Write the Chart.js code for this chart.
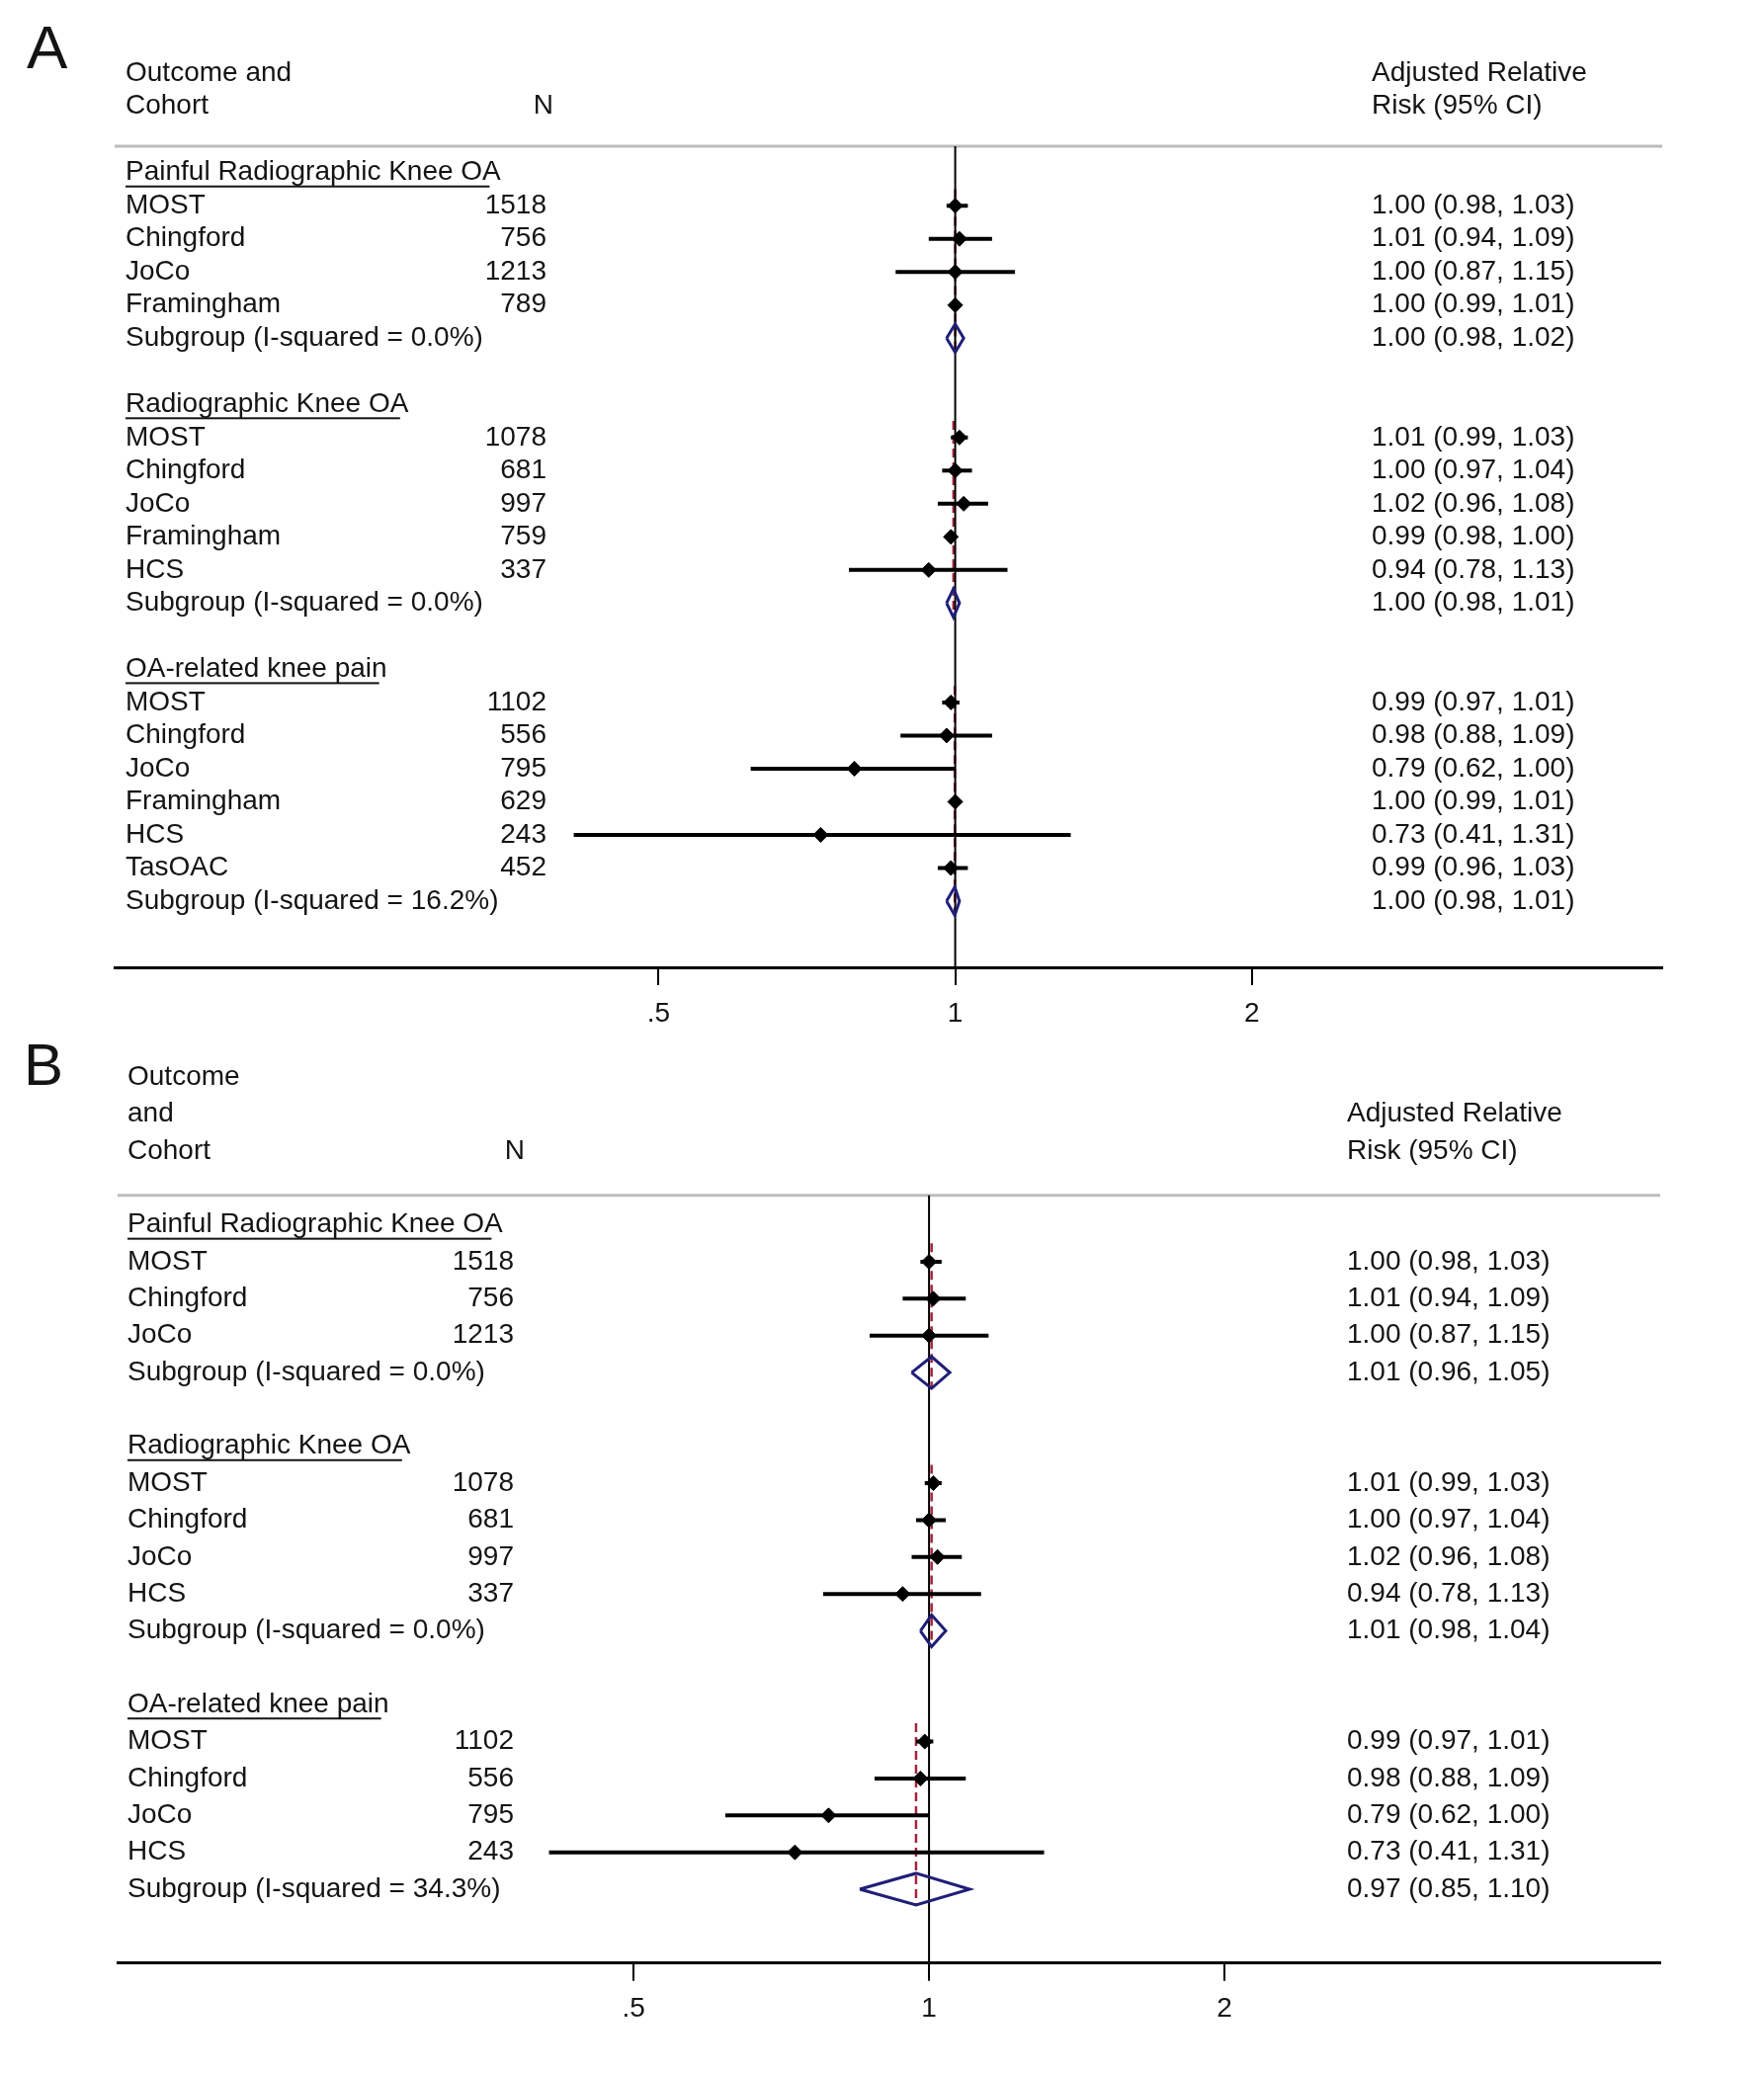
<!DOCTYPE html>
<html>
<head>
<meta charset="utf-8">
<script src="https://cdn.jsdelivr.net/npm/chart.js@4.4.1/dist/chart.umd.min.js"></script>
<style>
  body { margin: 0; background: #fff; width: 1785px; height: 2098px; position: relative; overflow: hidden; }
  canvas { position: absolute; left: 0; }
  #chartA { top: 0; }
  #chartB { top: 1050px; }
</style>
</head>
<body>
<canvas id="chartA" width="1785" height="1060"></canvas>
<canvas id="chartB" width="1785" height="1048"></canvas>
<script>
// data panel A ---------------------------------------------------------
const groupsA = ['Painful Radiographic Knee OA', 'Radiographic Knee OA', 'OA-related knee pain'];
const cohortsA = [
    ['MOST', 'Chingford', 'JoCo', 'Framingham'],
    ['MOST', 'Chingford', 'JoCo', 'Framingham', 'HCS'],
    ['MOST', 'Chingford', 'JoCo', 'Framingham', 'HCS', 'TasOAC']
];
const nA = [[1518, 756, 1213, 789], [1078, 681, 997, 759, 337], [1102, 556, 795, 629, 243, 452]];
const rrA = [[1.00, 1.01, 1.00, 1.00], [1.01, 1.00, 1.02, 0.99, 0.94], [0.99, 0.98, 0.79, 1.00, 0.73, 0.99]];
const lowA = [[0.98, 0.94, 0.87, 0.99], [0.99, 0.97, 0.96, 0.98, 0.78], [0.97, 0.88, 0.62, 0.99, 0.41, 0.96]];
const highA = [[1.03, 1.09, 1.15, 1.01], [1.03, 1.04, 1.08, 1.00, 1.13], [1.01, 1.09, 1.00, 1.01, 1.31, 1.03]];
const isqA = ['0.0', '0.0', '16.2'];
const poolA = [1.00, 0.996, 0.999];
const poolLowA = [0.98, 0.98, 0.98];
const poolHighA = [1.02, 1.01, 1.01];

// data panel B ---------------------------------------------------------
const groupsB = ['Painful Radiographic Knee OA', 'Radiographic Knee OA', 'OA-related knee pain'];
const cohortsB = [
    ['MOST', 'Chingford', 'JoCo'],
    ['MOST', 'Chingford', 'JoCo', 'HCS'],
    ['MOST', 'Chingford', 'JoCo', 'HCS']
];
const nB = [[1518, 756, 1213], [1078, 681, 997, 337], [1102, 556, 795, 243]];
const rrB = [[1.00, 1.01, 1.00], [1.01, 1.00, 1.02, 0.94], [0.99, 0.98, 0.79, 0.73]];
const lowB = [[0.98, 0.94, 0.87], [0.99, 0.97, 0.96, 0.78], [0.97, 0.88, 0.62, 0.41]];
const highB = [[1.03, 1.09, 1.15], [1.03, 1.04, 1.08, 1.13], [1.01, 1.09, 1.00, 1.31]];
const isqB = ['0.0', '0.0', '34.3'];
const poolB = [1.006, 1.006, 0.97];
const poolLowB = [0.96, 0.98, 0.85];
const poolHighB = [1.05, 1.04, 1.10];

// axis ticks
const tickValues = [0.5, 1, 2];
const tickLabels = ['.5', '1', '2'];

const FONT = '"Liberation Sans", Arial, sans-serif';
const TEXT = '#141414';
const NAVY = '#1f1f78';
const DASH_RED = '#a3243d';

Chart.defaults.font.family = FONT;
Chart.defaults.color = TEXT;


// panel layout -------------------------------------------------------------
const panelA = {
    letter: 'A', letterX: 27, letterY: 52, letterSize: 62,
    groups: groupsA, cohorts: cohortsA, n: nA, rr: rrA, low: lowA, high: highA,
    isq: isqA, pool: poolA, poolLow: poolLowA, poolHigh: poolHighA,
    headLeft: ['Outcome and', 'Cohort'],
    headRight: ['Adjusted Relative', 'Risk (95% CI)'],
    xMin: 0.1402, xMax: 5.22, rowMin: -4.96, rowMax: 24,
    pad: { left: 116, right: 103, top: 7.5, bottom: 1 },
    colName: 127, colN: 553, colHeadN: 560, colRR: 1388
};

const panelB = {
    letter: 'B', letterX: 24, letterY: 31, letterSize: 60,
    groups: groupsB, cohorts: cohortsB, n: nB, rr: rrB, low: lowB, high: highB,
    isq: isqB, pool: poolB, poolLow: poolLowB, poolHigh: poolHighB,
    headLeft: ['Outcome', 'and', 'Cohort'],
    headRight: ['Adjusted Relative', 'Risk (95% CI)'],
    xMin: 0.149, xMax: 5.56, rowMin: -4.85, rowMax: 20,
    pad: { left: 119, right: 105, top: 2, bottom: 31.3 },
    colName: 129, colN: 520, colHeadN: 531, colRR: 1363
};


function fmt(v) {
    return v.toFixed(2);
}


// rows: header, cohorts, subgroup, blank
function buildRows(p) {
    let rows = [];
    let r = 0;
    p.groups.forEach((g, gi) => {
        let start = r;
        rows.push({ row: r, name: g, head: true });
        r++;
        p.cohorts[gi].forEach((c, ci) => {
            rows.push({ row: r, name: c, n: p.n[gi][ci], est: p.rr[gi][ci], lo: p.low[gi][ci], hi: p.high[gi][ci] });
            r++;
        });
        rows.push({
            row: r, name: 'Subgroup (I-squared = ' + p.isq[gi] + '%)', pooled: true,
            est: p.pool[gi], lo: p.poolLow[gi], hi: p.poolHigh[gi], start: start
        });
        r += 2;
    });
    return rows;
}


function lineSet(data, color, width, order, dash) {
    return {
        type: 'scatter', showLine: true, data: data, borderColor: color, borderWidth: width,
        borderDash: dash || [], pointRadius: 0, fill: false, tension: 0, order: order,
        borderJoinStyle: 'miter', borderCapStyle: 'butt'
    };
}


function buildDatasets(p, rows) {
    let sets = [];
    let studies = rows.filter(r => r.est !== undefined && !r.pooled);
    let pooled = rows.filter(r => r.pooled);

    // header rule
    sets.push(lineSet([{ x: p.xMin, y: -0.8 }, { x: p.xMax, y: -0.8 }], '#bcbcbc', 3, 9));

    // subgroup estimate lines (under the null line)
    pooled.forEach(r => {
        sets.push(lineSet([{ x: r.est, y: r.start + 0.5 }, { x: r.est, y: r.row + 0.42 }], DASH_RED, 2.5, 8, [9, 5]));
    });

    // null line
    sets.push(lineSet([{ x: 1, y: -0.8 }, { x: 1, y: p.rowMax }], '#000', 2, 6));

    // confidence intervals
    studies.forEach(r => {
        sets.push(lineSet([{ x: r.lo, y: r.row }, { x: r.hi, y: r.row }], '#000', 4, 3));
    });

    // pooled diamonds
    pooled.forEach(r => {
        let h = 0.43;
        sets.push(lineSet([
            { x: r.lo, y: r.row }, { x: r.est, y: r.row - h }, { x: r.hi, y: r.row },
            { x: r.est, y: r.row + h }, { x: r.lo, y: r.row }
        ], NAVY, 3, 2));
    });

    // point estimates
    sets.push({
        type: 'scatter',
        data: studies.map(r => ({ x: r.est, y: r.row })),
        pointStyle: 'rectRot', pointRadius: 7.5, backgroundColor: '#000', borderColor: '#000',
        borderWidth: 1, order: 1
    });
    return sets;
}


function textPlugin(p, rows) {
    return {
        id: 'forestText' + p.letter,
        afterDraw(chart) {
            let ctx = chart.ctx;
            let y = v => chart.scales.y.getPixelForValue(v);
            ctx.save();
            ctx.fillStyle = TEXT;
            ctx.textBaseline = 'middle';

            // panel letter
            ctx.font = p.letterSize + 'px ' + FONT;
            ctx.textAlign = 'left';
            ctx.fillText(p.letter, p.letterX, p.letterY);

            ctx.font = '28px ' + FONT;
            // column headers
            p.headLeft.forEach((t, i) => ctx.fillText(t, p.colName, y(-1 - p.headLeft.length + i)));
            p.headRight.forEach((t, i) => ctx.fillText(t, p.colRR, y(-1 - p.headRight.length + i)));
            ctx.textAlign = 'right';
            ctx.fillText('N', p.colHeadN, y(-2));

            rows.forEach(r => {
                let py = y(r.row);
                ctx.textAlign = 'left';
                ctx.fillText(r.name, p.colName, py);
                if (r.head) {
                    let w = ctx.measureText(r.name).width;
                    ctx.fillRect(p.colName, py + 13, w * 0.97, 2);
                    return;
                }
                ctx.fillText(fmt(r.est) + ' (' + fmt(r.lo) + ', ' + fmt(r.hi) + ')', p.colRR, py);
                if (r.n !== undefined) {
                    ctx.textAlign = 'right';
                    ctx.fillText(String(r.n), p.colN, py);
                }
            });
            ctx.restore();
        }
    };
}


function drawPanel(canvasId, p) {
    let rows = buildRows(p);
    let ctx = document.getElementById(canvasId).getContext('2d');
    new Chart(ctx, {
        type: 'scatter',
        data: { datasets: buildDatasets(p, rows) },
        options: {
            responsive: false,
            animation: false,
            events: [],
            layout: { padding: p.pad },
            plugins: { legend: { display: false }, tooltip: { enabled: false } },
            scales: {
                x: {
                    type: 'logarithmic',
                    bounds: 'data',
                    min: p.xMin,
                    max: p.xMax,
                    afterBuildTicks: s => { s.ticks = tickValues.map(v => ({ value: v })); },
                    afterFit: s => { s.height = 80; },
                    ticks: {
                        autoSkip: false, maxRotation: 0, padding: 12, color: TEXT,
                        font: { size: 28, family: FONT },
                        callback: v => tickLabels[tickValues.indexOf(v)]
                    },
                    grid: { drawOnChartArea: false, drawTicks: true, tickLength: 18, color: '#000', lineWidth: 2 },
                    border: { display: true, color: '#000', width: 3 }
                },
                y: {
                    type: 'linear', display: false, reverse: true,
                    min: p.rowMin, max: p.rowMax
                }
            }
        },
        plugins: [textPlugin(p, rows)]
    });
}

drawPanel('chartA', panelA);
drawPanel('chartB', panelB);
</script>
</body>
</html>
